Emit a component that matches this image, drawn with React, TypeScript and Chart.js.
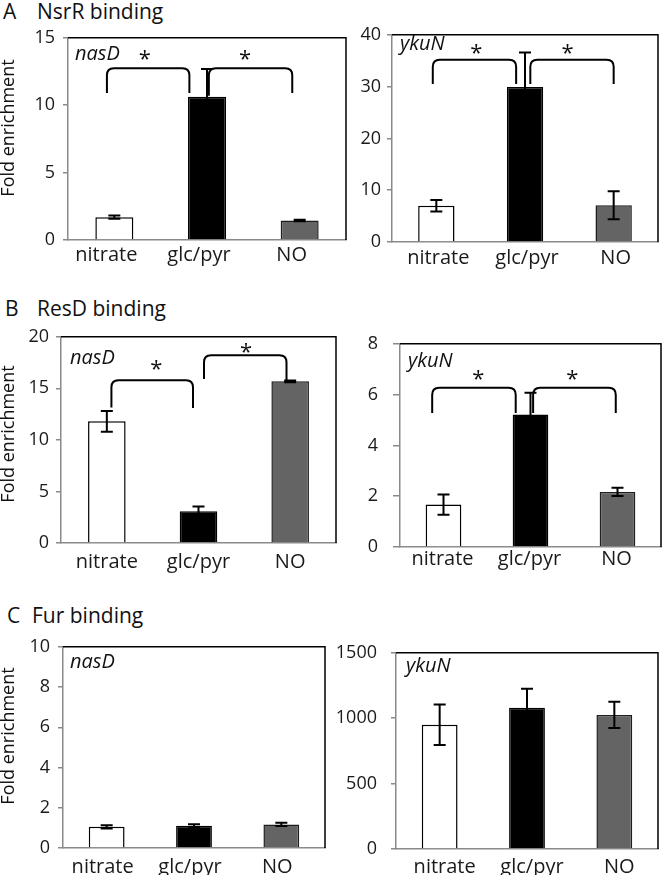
import React, { useEffect, useRef } from 'react';
import { Chart, registerables } from 'chart.js';

Chart.register(...registerables);

const FONT = "'Open Sans', 'Noto Sans', sans-serif";
Chart.defaults.font.family = FONT;
Chart.defaults.color = '#1a1a1a';

// ---------- data ----------
const categories = ['nitrate', 'glc/pyr', 'NO'];
const barFills = ['#ffffff', '#000000', '#646464'];
const barEdges = ['#000000', '#000000', '#1e1e1e'];

// A  NsrR binding
const nsrNasD = [1.69, 10.63, 1.45];
const nsrNasDErr = [0.12, 2.05, 0.05];
const nsrYkuN = [7.0, 29.9, 7.1];
const nsrYkuNErr = [1.1, 6.7, 2.7];

// B  ResD binding
const resNasD = [11.8, 3.08, 15.68];
const resNasDErr = [1.0, 0.45, 0.08];
const resYkuN = [1.67, 5.22, 2.17];
const resYkuNErr = [0.4, 0.85, 0.16];

// C  Fur binding
const furNasD = [1.05, 1.1, 1.17];
const furNasDErr = [0.08, 0.08, 0.08];
const furYkuN = [950, 1080, 1025];
const furYkuNErr = [155, 145, 100];

// axis ranges [max, step]
const nsrNasDAxis = [15, 5];
const nsrYkuNAxis = [40, 10];
const resNasDAxis = [20, 5];
const resYkuNAxis = [8, 2];
const furNasDAxis = [10, 2];
const furYkuNAxis = [1500, 500];

// significance brackets: [from, to, top, leftEnd, rightEnd] in (category index, value)
const nsrNasDBrackets = [
  [-0.08, 0.81, 12.75, 10.9, 10.9],
  [1.02, 1.92, 12.75, 10.7, 10.9],
];
const nsrNasDStars = [[0.33, 13.8], [1.41, 13.8]];
const nsrYkuNBrackets = [
  [-0.04, 0.9, 35.2, 30.5, 30.5],
  [1.06, 2.0, 35.2, 30.5, 30.5],
];
const nsrYkuNStars = [[0.45, 37.5], [1.48, 37.5]];
const resNasDBrackets = [
  [0.05, 0.94, 15.78, 13.14, 13.1],
  [1.06, 1.96, 18.2, 15.9, 15.78],
];
const resNasDStars = [[0.54, 17.33], [1.52, 19.0]];
const resYkuNBrackets = [
  [-0.13, 0.83, 6.27, 5.28, 5.28],
  [1.03, 1.98, 6.27, 5.28, 5.28],
];
const resYkuNStars = [[0.4, 6.8], [1.48, 6.8]];

type Panel = {
  gene: string;
  values: number[];
  errors: number[];
  axis: number[];
  brackets: number[][];
  stars: number[][];
  yTitle: boolean;
  left: number; top: number; right: number; bottom: number; canvasLeft: number;
  geneDx: number; geneBase: number;
  tickPad: number; tickLen: number; xPad: number; xShift: number; yTitleY: number;
};

const panels: Panel[] = [
  { gene: 'nasD', values: nsrNasD, errors: nsrNasDErr, axis: nsrNasDAxis, brackets: nsrNasDBrackets, stars: nsrNasDStars, yTitle: true,
    left: 68, top: 33, right: 346, bottom: 240, canvasLeft: 0, geneDx: 7, geneBase: 22, tickPad: 8, tickLen: 5, xPad: 3, xShift: -8, yTitleY: 128 },
  { gene: 'ykuN', values: nsrYkuN, errors: nsrYkuNErr, axis: nsrYkuNAxis, brackets: nsrYkuNBrackets, stars: nsrYkuNStars, yTitle: false,
    left: 392, top: 32, right: 658, bottom: 242, canvasLeft: 330, geneDx: 8, geneBase: 15, tickPad: 6, tickLen: 5, xPad: 4, xShift: 2, yTitleY: 0 },
  { gene: 'nasD', values: resNasD, errors: resNasDErr, axis: resNasDAxis, brackets: resNasDBrackets, stars: resNasDStars, yTitle: true,
    left: 61, top: 333, right: 336, bottom: 543, canvasLeft: 0, geneDx: 9, geneBase: 27, tickPad: 7, tickLen: 5, xPad: 7, xShift: 0, yTitleY: 434 },
  { gene: 'ykuN', values: resYkuN, errors: resYkuNErr, axis: resYkuNAxis, brackets: resYkuNBrackets, stars: resYkuNStars, yTitle: false,
    left: 400, top: 332, right: 661, bottom: 547, canvasLeft: 330, geneDx: 8, geneBase: 23, tickPad: 15, tickLen: 7, xPad: 0, xShift: -1, yTitleY: 0 },
  { gene: 'nasD', values: furNasD, errors: furNasDErr, axis: furNasDAxis, brackets: [], stars: [], yTitle: true,
    left: 63, top: 642, right: 325, bottom: 848, canvasLeft: 0, geneDx: 7, geneBase: 21, tickPad: 8, tickLen: 5, xPad: 7, xShift: -4, yTitleY: 736 },
  { gene: 'ykuN', values: furYkuN, errors: furYkuNErr, axis: furYkuNAxis, brackets: [], stars: [], yTitle: false,
    left: 396, top: 642, right: 658, bottom: 849, canvasLeft: 330, geneDx: 10, geneBase: 19, tickPad: 14, tickLen: 5, xPad: 6, xShift: 5, yTitleY: 0 },
];

const sections = [
  { letter: 'A', name: 'NsrR binding', top: 1, letterX: 3, nameX: 37 },
  { letter: 'B', name: 'ResD binding', top: 298, letterX: 5, nameX: 37 },
  { letter: 'C', name: 'Fur binding', top: 605, letterX: 7, nameX: 32 },
];

const PAD_TOP = 14;
const X_H = 40;

function makeDecor(p: Panel, canvasTop: number) {
  return {
    id: 'decor',
    afterDatasetsDraw(chart: any) {
      const { ctx, chartArea: a, scales } = chart;
      const x = scales.x;
      const y = scales.y;
      ctx.save();
      // box top/right
      ctx.strokeStyle = '#000';
      ctx.lineWidth = 1.5;
      ctx.beginPath();
      ctx.moveTo(a.left, a.top);
      ctx.lineTo(a.right, a.top);
      ctx.lineTo(a.right, a.bottom);
      ctx.stroke();
      // error bars
      const meta = chart.getDatasetMeta(0);
      ctx.lineWidth = 2;
      meta.data.forEach((bar: any, i: number) => {
        const cx = bar.x;
        const v = p.values[i];
        const e = p.errors[i];
        const y1 = y.getPixelForValue(v + e);
        const y2 = y.getPixelForValue(Math.max(0, v - e));
        ctx.beginPath();
        ctx.moveTo(cx, y1); ctx.lineTo(cx, y2);
        ctx.moveTo(cx - 6, y1); ctx.lineTo(cx + 6, y1);
        ctx.moveTo(cx - 6, y2); ctx.lineTo(cx + 6, y2);
        ctx.stroke();
      });
      // brackets
      ctx.lineWidth = 2;
      const r = 7;
      p.brackets.forEach((b) => {
        const x1 = x.getPixelForValue(b[0]);
        const x2 = x.getPixelForValue(b[1]);
        const yt = y.getPixelForValue(b[2]);
        const yl = y.getPixelForValue(b[3]);
        const yr = y.getPixelForValue(b[4]);
        ctx.beginPath();
        ctx.moveTo(x1, yl);
        ctx.lineTo(x1, yt + r);
        ctx.quadraticCurveTo(x1, yt, x1 + r, yt);
        ctx.lineTo(x2 - r, yt);
        ctx.quadraticCurveTo(x2, yt, x2, yt + r);
        ctx.lineTo(x2, yr);
        ctx.stroke();
      });
      // stars
      ctx.fillStyle = '#111';
      ctx.font = `22px ${FONT}`;
      ctx.textAlign = 'center';
      ctx.textBaseline = 'alphabetic';
      p.stars.forEach((s) => {
        ctx.fillText('*', x.getPixelForValue(s[0]), y.getPixelForValue(s[1]) + 12);
      });
      // gene label
      ctx.font = `italic 20px ${FONT}`;
      ctx.textAlign = 'left';
      ctx.fillText(p.gene, a.left + p.geneDx, a.top + p.geneBase);
      // y title
      if (p.yTitle) {
        ctx.translate(9 - p.canvasLeft, p.yTitleY - canvasTop);
        ctx.rotate(-Math.PI / 2);
        ctx.font = `18px ${FONT}`;
        ctx.textAlign = 'center';
        ctx.textBaseline = 'middle';
        ctx.fillText('Fold enrichment', 0, 0);
      }
      ctx.restore();
    },
  };
}

function PanelChart({ p }: { p: Panel }) {
  const ref = useRef<HTMLCanvasElement>(null);
  const cLeft = p.canvasLeft;
  const cTop = p.top - PAD_TOP;
  const cW = p.right + 5 - cLeft;
  const cH = p.bottom + X_H - cTop;
  useEffect(() => {
    const chart = new Chart(ref.current as HTMLCanvasElement, {
      type: 'bar',
      data: {
        labels: categories,
        datasets: [{
          data: p.values,
          backgroundColor: barFills,
          borderColor: barEdges,
          borderWidth: 1.5,
          categoryPercentage: 1,
          barPercentage: 0.41,
        }],
      },
      options: {
        responsive: false,
        animation: false,
        devicePixelRatio: 1,
        layout: { padding: { top: PAD_TOP, right: 5, left: 0, bottom: 0 } },
        plugins: { legend: { display: false }, tooltip: { enabled: false }, title: { display: false } },
        scales: {
          x: {
            grid: { display: false, drawTicks: false },
            border: { display: true, color: '#8a8a8a', width: 1.5 },
            ticks: { font: { size: 20 }, color: '#1a1a1a', padding: p.xPad, maxRotation: 0, labelOffset: p.xShift },
            afterFit: (s: any) => { s.height = X_H; },
          },
          y: {
            min: 0,
            max: p.axis[0],
            ticks: { stepSize: p.axis[1], font: { size: 18 }, color: '#1a1a1a', padding: p.tickPad, callback: (v: any) => String(v) },
            grid: { display: true, drawOnChartArea: false, drawTicks: true, tickLength: p.tickLen, color: '#8a8a8a', lineWidth: 1.5 },
            border: { display: true, color: '#8a8a8a', width: 1.5 },
            afterFit: (s: any) => { s.width = p.left - cLeft; },
          },
        },
      },
      plugins: [makeDecor(p, cTop)],
    } as any);
    return () => chart.destroy();
  }, []);
  return (
    <canvas
      ref={ref}
      width={cW}
      height={cH}
      style={{ position: 'absolute', left: cLeft, top: cTop, width: cW, height: cH }}
    />
  );
}

export default function App() {
  return (
    <div style={{ position: 'absolute', left: 0, top: 0, width: 666, height: 875, background: '#fff', fontFamily: FONT, color: '#111' }}>
      {sections.map((s) => (
        <React.Fragment key={s.letter}>
          <div style={{ position: 'absolute', left: s.letterX, top: s.top, fontSize: 21, lineHeight: '21px', whiteSpace: 'nowrap' }}>{s.letter}</div>
          <div style={{ position: 'absolute', left: s.nameX, top: s.top, fontSize: 21, lineHeight: '21px', whiteSpace: 'nowrap' }}>{s.name}</div>
        </React.Fragment>
      ))}
      {panels.map((p, i) => <PanelChart key={i} p={p} />)}
    </div>
  );
}
